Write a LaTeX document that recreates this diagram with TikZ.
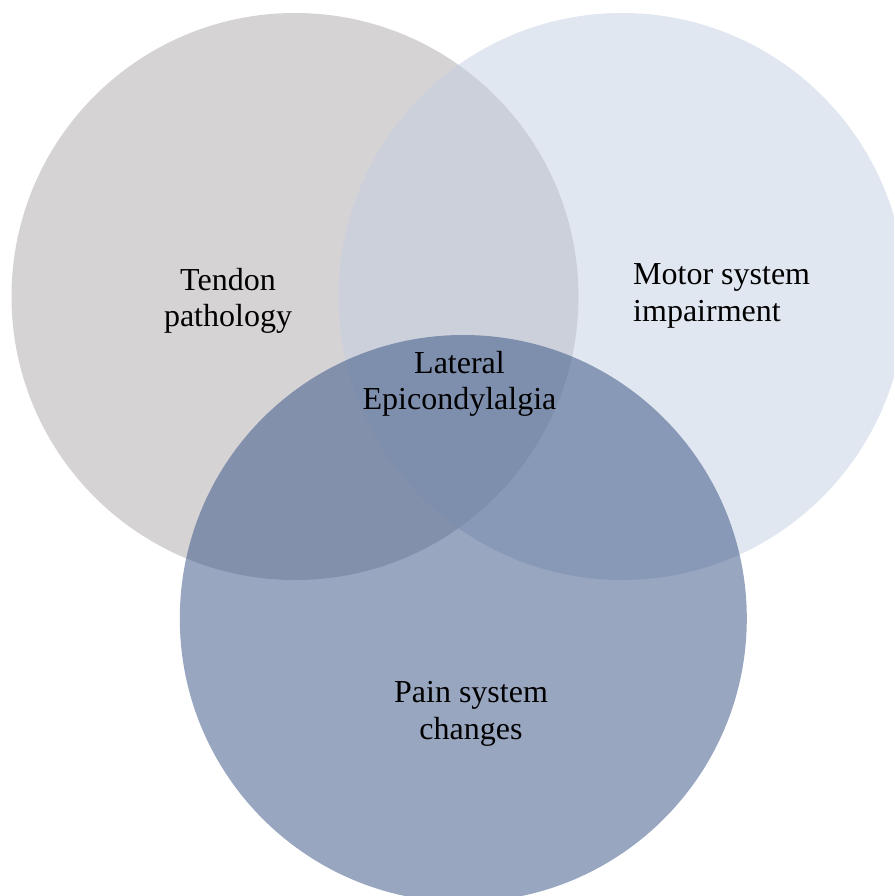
\documentclass[tikz,border=0pt]{standalone}
\usepackage{fontspec}
\setmainfont{Liberation Serif}
\definecolor{tendoncol}{RGB}{173,167,171}
\definecolor{motorcol}{RGB}{195,207,225}
\definecolor{paincol}{RGB}{49,77,129}
\tikzset{
  venn/.style={fill opacity=0.5, draw=none},
  vlabel/.style={inner sep=0pt, text=black, font=\fontsize{32}{36.5}\selectfont}
}
\begin{document}
\begin{tikzpicture}[x=1pt, y=-1pt]
  \useasboundingbox (0,0) rectangle (894,896);
  \clip (0,0) rectangle (894,896);
  % three overlapping sets
  \fill[venn, tendoncol] (295,296.5) circle (283.5);
  \fill[venn, motorcol] (622,296.5) circle (283.5);
  \fill[venn, paincol] (463.3,618.5) circle (283.5);
  % set labels
  \node[vlabel, align=center] (tendon) at (228,301) {Tendon\\pathology};
  \node[vlabel, align=left, anchor=west] (motor) at (633,296) {Motor system\\impairment};
  \node[vlabel, align=center] (pain) at (471,714) {Pain system\\changes};
  \node[vlabel, align=center] (le) at (459.5,384) {Lateral\\Epicondylalgia};
\end{tikzpicture}
\end{document}
